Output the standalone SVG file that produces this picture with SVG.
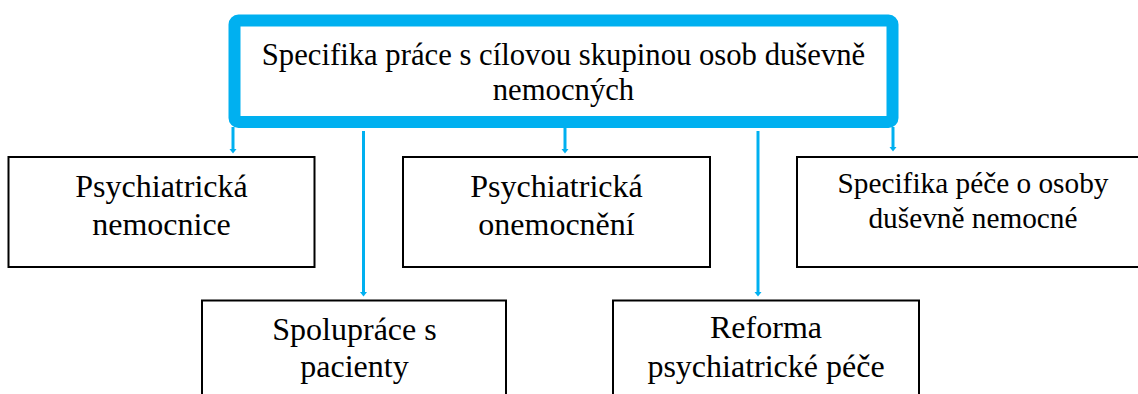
<svg xmlns="http://www.w3.org/2000/svg" width="1138" height="394" viewBox="0 0 1138 394">
<style>
.box{fill:#fff;stroke:#000;stroke-width:2}
text{font-family:'Liberation Serif','Times New Roman',serif;fill:#000;text-anchor:middle}
.c{stroke:#00b0f0;stroke-width:3;fill:none}
.ah{fill:#00b0f0}
</style>
<rect width="1138" height="394" fill="#fff"/>
<g id="connectors">
<line class="c" x1="233" y1="127" x2="233" y2="150"/>
<path class="ah" d="M229.5,149 L236.5,149 L233,153.5 Z"/>
<line class="c" x1="565" y1="127" x2="565" y2="150"/>
<path class="ah" d="M561.5,149 L568.5,149 L565,153.5 Z"/>
<line class="c" x1="893" y1="127" x2="893" y2="148"/>
<path class="ah" d="M889.5,147 L896.5,147 L893,151.5 Z"/>
<line class="c" x1="363.5" y1="131" x2="363.5" y2="293"/>
<path class="ah" d="M360,292 L367,292 L363.5,296.5 Z"/>
<line class="c" x1="758" y1="131" x2="758" y2="293"/>
<path class="ah" d="M754.5,292 L761.5,292 L758,296.5 Z"/>
</g>
<g id="root">
<rect x="234.5" y="20.5" width="658" height="101.5" rx="4" fill="#fff" stroke="#00b0f0" stroke-width="12"/>
<text x="563.5" y="65" font-size="30.7">Specifika práce s cílovou skupinou osob duševně</text>
<text x="563.5" y="100" font-size="30.7">nemocných</text>
</g>
<g id="n1">
<rect class="box" x="8.5" y="157" width="306" height="110"/>
<text x="161.5" y="197" font-size="32">Psychiatrická</text>
<text x="161.5" y="235" font-size="32">nemocnice</text>
</g>
<g id="n2">
<rect class="box" x="403" y="157" width="307" height="110"/>
<text x="556.5" y="197" font-size="32">Psychiatrická</text>
<text x="556.5" y="235" font-size="32">onemocnění</text>
</g>
<g id="n3">
<rect class="box" x="797" y="157" width="352" height="110"/>
<text x="973" y="193" font-size="29.3">Specifika péče o osoby</text>
<text x="973" y="228" font-size="29.3">duševně nemocné</text>
</g>
<g id="n4">
<rect class="box" x="202" y="300.5" width="304" height="110"/>
<text x="354.5" y="340" font-size="32">Spolupráce s</text>
<text x="354.5" y="377" font-size="32">pacienty</text>
</g>
<g id="n5">
<rect class="box" x="613" y="300.5" width="306" height="110"/>
<text x="766" y="338" font-size="32">Reforma</text>
<text x="766" y="377" font-size="32">psychiatrické péče</text>
</g>
</svg>
